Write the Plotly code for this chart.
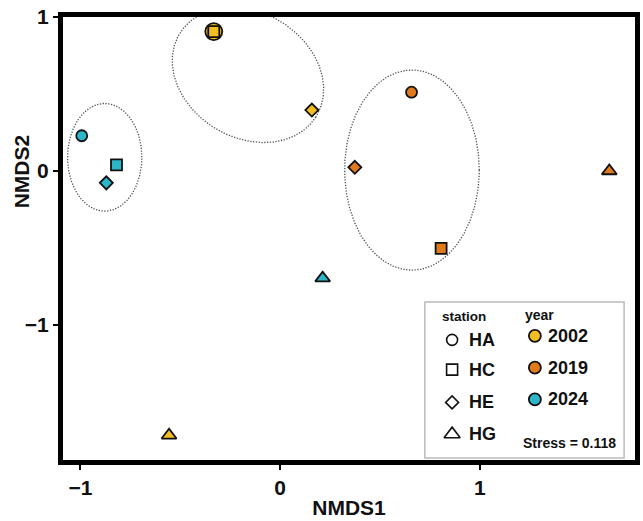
import numpy as np
import plotly.graph_objects as go

# ---------------- data ----------------
stations = ["HA", "HC", "HE", "HG"]
years = ["2002", "2019", "2024"]
nmds1_2002 = [-0.332, -0.332, 0.159, -0.556]
nmds2_2002 = [0.906, 0.906, 0.396, -1.717]
nmds1_2019 = [0.658, 0.806, 0.374, 1.648]
nmds2_2019 = [0.512, -0.502, 0.024, 0.000]
nmds1_2024 = [-0.993, -0.819, -0.870, 0.213]
nmds2_2024 = [0.229, 0.040, -0.077, -0.696]
stress_value = 0.118

# group ellipses (centre, two conjugate semi-axis vectors, in NMDS units)
ellipse_years = ["2002", "2019", "2024"]
ellipse_cx = [-0.161, 0.660, -0.878]
ellipse_cy = [0.624, 0.006, 0.089]
ellipse_u = [(0.340, -0.273), (0.337, 0.0), (0.186, 0.0)]
ellipse_v = [(-0.1675, -0.344), (0.0, 0.650), (0.0, 0.350)]

x_ticks = [-1, 0, 1]
y_ticks = [-1, 0, 1]

# ---------------- style ----------------
year_colors = {"2002": "#F2BE22", "2019": "#E07A1B", "2024": "#2DB5C9"}
station_symbols = {"HA": "circle", "HC": "square", "HE": "diamond", "HG": "triangle-up"}
station_sizes = {"HA": 11, "HC": 11, "HE": 10, "HG": 13}
FONT = "Liberation Sans, Arial, sans-serif"
INK = "#111111"

W, H = 643, 521
ML, MR, MT, MB = 63, 3, 17, 58
PX0, PX1 = ML, W - MR
PY0, PY1 = MT, H - MB
# pixel calibration of the data axes
X0_PX, X_PER_UNIT = 282.0, 201.5
Y0_PX, Y_PER_UNIT = 172.0, 155.0
x_range = [(PX0 - X0_PX) / X_PER_UNIT, (PX1 - X0_PX) / X_PER_UNIT]
y_range = [(Y0_PX - PY1) / Y_PER_UNIT, (Y0_PX - PY0) / Y_PER_UNIT + 0.0005]


def px2x(px):
    return (px - X0_PX) / X_PER_UNIT


def px2y(py):
    return (Y0_PX - py) / Y_PER_UNIT


data_x = {"2002": nmds1_2002, "2019": nmds1_2019, "2024": nmds1_2024}
data_y = {"2002": nmds2_2002, "2019": nmds2_2019, "2024": nmds2_2024}

fig = go.Figure()

# ellipses
t = np.linspace(0, 2 * np.pi, 400)
for yr, cx, cy, u, v in zip(ellipse_years, ellipse_cx, ellipse_cy, ellipse_u, ellipse_v):
    ex = cx + u[0] * np.cos(t) + v[0] * np.sin(t)
    ey = cy + u[1] * np.cos(t) + v[1] * np.sin(t)
    fig.add_trace(go.Scatter(x=ex, y=ey, mode="lines",
                             line=dict(color="#555555", width=1.3, dash="1.3px,1.5px"),
                             hoverinfo="skip", showlegend=False))

# points, one trace per station
for si, st in enumerate(stations):
    xs, ys, cols, sizes = [], [], [], []
    for yr in years:
        xv, yv = data_x[yr][si], data_y[yr][si]
        xs.append(xv)
        ys.append(yv)
        cols.append(year_colors[yr])
        # a circle hidden under another point of the same year is drawn larger
        overlap = any(j != si and data_x[yr][j] == xv and data_y[yr][j] == yv
                      for j in range(len(stations)))
        sizes.append(17 if (overlap and st == "HA") else station_sizes[st])
    fig.add_trace(go.Scatter(
        x=xs, y=ys, mode="markers", name=st,
        marker=dict(symbol=station_symbols[st], size=sizes, color=cols, opacity=1,
                    line=dict(color=INK, width=1.8)),
        showlegend=False))

# ---------------- custom legend ----------------
leg_sym_x = 455.5
leg_sym_y = [342, 372, 405, 437]
for st, yy in zip(stations, leg_sym_y):
    fig.add_trace(go.Scatter(
        x=[px2x(leg_sym_x)], y=[px2y(yy)], mode="markers",
        marker=dict(symbol=station_symbols[st], size=station_sizes[st] + (1 if st == "HG" else 0),
                    color="white", opacity=1, line=dict(color=INK, width=1.6)),
        showlegend=False, hoverinfo="skip"))
leg_year_x = 539
leg_year_y = [338, 370, 402]
for yr, yy in zip(years, leg_year_y):
    fig.add_trace(go.Scatter(
        x=[px2x(leg_year_x)], y=[px2y(yy)], mode="markers",
        marker=dict(symbol="circle", size=12, color=year_colors[yr], opacity=1,
                    line=dict(color=INK, width=1.8)),
        showlegend=False, hoverinfo="skip"))

annots = []


def txt(x, y, s, size):
    annots.append(dict(x=px2x(x), y=px2y(y), xref="x", yref="y", text=s, showarrow=False,
                       xanchor="left", yanchor="middle",
                       font=dict(family=FONT, size=size, color=INK, weight="bold")))


txt(443, 318, "station", 13.5)
txt(527, 317, "year", 14)
for st, yy in zip(stations, leg_sym_y):
    txt(471, yy, st, 18)
for yr, yy in zip(years, leg_year_y):
    txt(550, yy, yr, 18)
txt(525, 446, f"Stress = {stress_value}", 14)

# y-axis title placed as an annotation (paper coords are relative to the plot area)
plot_w = W - ML - MR
plot_h = H - MT - MB
annots.append(dict(x=(22 - ML) / plot_w, y=(PY1 - 172) / plot_h, xref="paper", yref="paper",
                   text="NMDS2", textangle=-90, showarrow=False,
                   xanchor="center", yanchor="middle",
                   font=dict(family=FONT, size=21, color=INK, weight="bold")))

fig.update_layout(
    width=W, height=H,
    margin=dict(l=ML, r=MR, t=MT, b=MB, pad=0),
    plot_bgcolor="white", paper_bgcolor="white",
    showlegend=False,
    annotations=annots,
    shapes=[dict(type="rect", xref="x", yref="y", x0=px2x(428), x1=px2x(629),
                 y0=px2y(304), y1=px2y(461),
                 line=dict(color="#BBBBBB", width=1.5), fillcolor="white", layer="below")],
    xaxis=dict(range=x_range, tickvals=x_ticks, showgrid=False, zeroline=False,
               showline=True, linewidth=5, linecolor="black", mirror=True,
               ticks="outside", ticklen=5, tickwidth=2, tickcolor="black",
               tickfont=dict(family=FONT, size=21, color=INK, weight="bold"),
               title=dict(text="NMDS1", standoff=4,
                          font=dict(family=FONT, size=21, color=INK, weight="bold"))),
    yaxis=dict(range=y_range, tickvals=y_ticks, showgrid=False, zeroline=False,
               showline=True, linewidth=5, linecolor="black", mirror=True,
               ticks="outside", ticklen=5, tickwidth=2, tickcolor="black",
               tickfont=dict(family=FONT, size=21, color=INK, weight="bold")),
)

fig.write_html("out.html")
